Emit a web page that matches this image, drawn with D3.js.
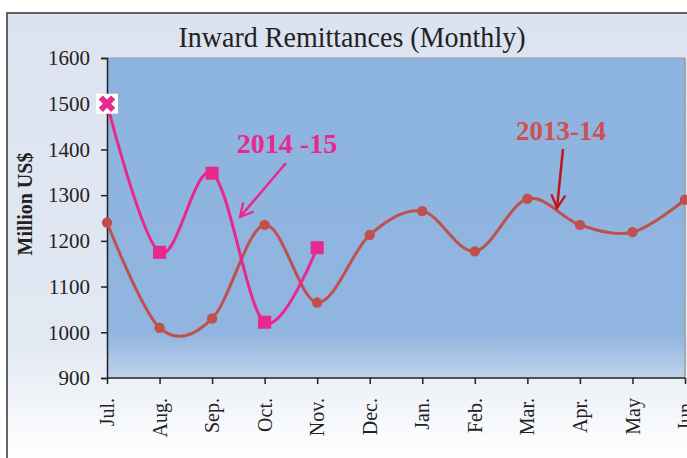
<!DOCTYPE html>
<html><head><meta charset="utf-8">
<script src="https://cdn.jsdelivr.net/npm/d3@7"></script>
<style>body{margin:0;background:#fff}svg{display:block}</style>
</head><body>
<svg id="c" width="687" height="458"></svg>
<script>
const months = ["Jul.","Aug.","Sep.","Oct.","Nov.","Dec.","Jan.","Feb.","Mar.","Apr.","May","Jun."];
const fy2013 = [1240,1010,1030,1235,1065,1213,1265,1177,1292,1235,1219,1290];
const fy2014 = [1500,1175,1348,1022,1185];
const yTicks = [900,1000,1100,1200,1300,1400,1500,1600];
const titleText = "Inward Remittances (Monthly)";
const yTitle = "Million US$";
const label2014 = "2014 -15";
const label2013 = "2013-14";

const svg = d3.select("#c");
const defs = svg.append("defs");
const g1 = defs.append("linearGradient").attr("id","bg").attr("x1",0).attr("y1",0).attr("x2",0).attr("y2",1);
g1.append("stop").attr("offset",0).attr("stop-color","#dce3f0");
g1.append("stop").attr("offset",0.72).attr("stop-color","#e3e9f3");
g1.append("stop").attr("offset",0.92).attr("stop-color","#fafbfd");
g1.append("stop").attr("offset",1).attr("stop-color","#ffffff");
const g2 = defs.append("linearGradient").attr("id","pa").attr("x1",0).attr("y1",0).attr("x2",0).attr("y2",1);
g2.append("stop").attr("offset",0).attr("stop-color","#8db3e0");
g2.append("stop").attr("offset",0.86).attr("stop-color","#90b5e0");
g2.append("stop").attr("offset",1).attr("stop-color","#c0d2ea");

svg.append("rect").attr("x",7).attr("y",13).attr("width",700).attr("height",460)
  .attr("fill","url(#bg)").attr("stroke","#333").attr("stroke-width",1.5);

const L=107,R=685,T=58,B=378;
const x = d3.scalePoint().domain(months).range([L,R]);
const y = d3.scaleLinear().domain([900,1600]).range([B,T]);

svg.append("rect").attr("x",L).attr("y",T).attr("width",R-L).attr("height",B-T).attr("fill","url(#pa)");
svg.append("line").attr("x1",R).attr("x2",R).attr("y1",T).attr("y2",B).attr("stroke","#9a9a9a").attr("stroke-width",1.5);
svg.append("line").attr("x1",L).attr("x2",R).attr("y1",T).attr("y2",T).attr("stroke","#9a9a9a").attr("stroke-width",1);

const serif = "'Liberation Serif','Times New Roman',serif";

svg.append("text").attr("x",352).attr("y",47).attr("text-anchor","middle")
  .attr("font-family",serif).attr("font-size",29).attr("fill","#222")
  .attr("textLength",347).attr("lengthAdjust","spacingAndGlyphs").text(titleText);

const ya = svg.append("g").attr("transform",`translate(${L},0)`)
  .call(d3.axisLeft(y).tickValues(yTicks).tickSize(6).tickPadding(11).tickFormat(d3.format("d")));
ya.selectAll("text").attr("font-family",serif).attr("font-size",21).attr("fill","#222");
ya.selectAll("line,path").attr("stroke","#222").attr("stroke-width",1.5);

const xa = svg.append("g").attr("transform",`translate(0,${B})`)
  .call(d3.axisBottom(x).tickSize(6).tickPadding(8));
xa.select(".domain").attr("d",`M${L},0H${R}`);
xa.selectAll("line,path").attr("stroke","#222").attr("stroke-width",1.5);
xa.selectAll("text").attr("font-family",serif).attr("font-size",20).attr("fill","#222")
  .attr("transform","rotate(-90)").attr("text-anchor","end").attr("x",-20).attr("y",0).attr("dy","0.33em");

svg.append("text").attr("transform","translate(32,204) rotate(-90)").attr("text-anchor","middle")
  .attr("font-family",serif).attr("font-weight","bold").attr("font-size",20).attr("fill","#222").text(yTitle);

const line = d3.line().x((d,i)=>x(months[i])).y(d=>y(d)).curve(d3.curveCatmullRom.alpha(0));
const red="#c0504d", pink="#e8288c";
svg.append("path").attr("d",line(fy2013)).attr("fill","none").attr("stroke",red).attr("stroke-width",3);
svg.append("path").attr("d",line(fy2014)).attr("fill","none").attr("stroke",pink).attr("stroke-width",3);

svg.selectAll("circle.r").data(fy2013).enter().append("circle")
  .attr("cx",(d,i)=>x(months[i])).attr("cy",d=>y(d)).attr("r",5.2).attr("fill",red);

fy2014.forEach((d,i)=>{
  const cx=x(months[i]), cy=y(d);
  if(i===0){
    svg.append("rect").attr("x",cx-11).attr("y",cy-10).attr("width",22).attr("height",20).attr("fill","#fff");
    svg.append("path").attr("d",d3.symbol(d3.symbolCross,170)())
      .attr("transform",`translate(${cx},${cy}) rotate(45)`).attr("fill",pink);
  } else {
    svg.append("rect").attr("x",cx-6.5).attr("y",cy-6.5).attr("width",13).attr("height",13).attr("fill",pink);
  }
});

defs.append("marker").attr("id","ap").attr("viewBox","0 0 10 10").attr("refX",8.5).attr("refY",5)
  .attr("markerWidth",7).attr("markerHeight",7).attr("orient","auto")
  .append("path").attr("d","M1,1 L8.5,5 L1,9").attr("fill","none").attr("stroke",pink).attr("stroke-width",1.3);
defs.append("marker").attr("id","ar").attr("viewBox","0 0 10 10").attr("refX",8.5).attr("refY",5)
  .attr("markerWidth",7).attr("markerHeight",7).attr("orient","auto")
  .append("path").attr("d","M1,1 L8.5,5 L1,9").attr("fill","none").attr("stroke","#c0141c").attr("stroke-width",1.3);

svg.append("text").attr("x",287).attr("y",153).attr("text-anchor","middle")
  .attr("font-family",serif).attr("font-weight","bold").attr("font-size",28).attr("fill",pink).text(label2014);
svg.append("line").attr("x1",286).attr("y1",163).attr("x2",240).attr("y2",217)
  .attr("stroke",pink).attr("stroke-width",2.5).attr("marker-end","url(#ap)");

svg.append("text").attr("x",561).attr("y",140).attr("text-anchor","middle")
  .attr("font-family",serif).attr("font-weight","bold").attr("font-size",27).attr("fill","#cf5050").text(label2013);
svg.append("line").attr("x1",563).attr("y1",149).attr("x2",557).attr("y2",208)
  .attr("stroke","#c0141c").attr("stroke-width",2.5).attr("marker-end","url(#ar)");
</script>
</body></html>
